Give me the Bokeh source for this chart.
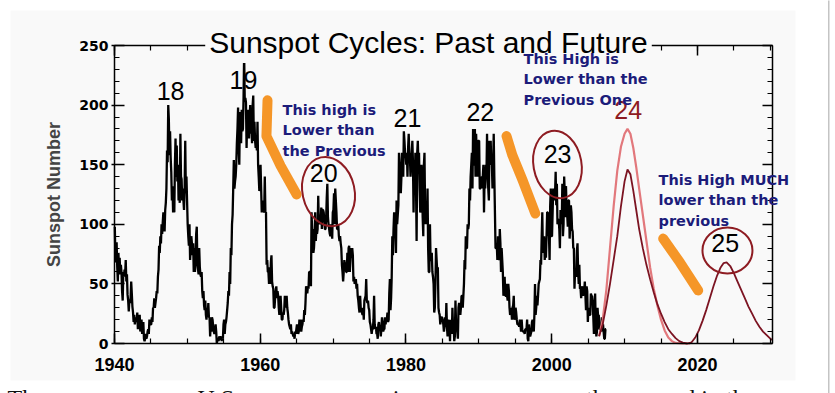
import numpy as np
from bokeh.plotting import figure
from bokeh.models import Range1d, LinearAxis, SingleIntervalTicker, Label, BoxAnnotation
from bokeh.embed import file_html
from bokeh.resources import INLINE

# ---------------- data ----------------
title_text = "Sunspot Cycles: Past and Future"
y_axis_title = "Sunspot Number"

ssn_start_year = 1940
ssn_monthly = [
    98, 72, 68, 85, 64, 52, 76, 60, 72, 58, 66, 60,          # 1940
    44, 36, 60, 56, 62, 58, 70, 52, 58, 41, 36, 27,          # 1941
    36, 34, 38, 52, 42, 31, 26, 18, 24, 16, 22, 20,          # 1942
    18, 26, 12, 20, 12, 24, 10, 14, 20, 8, 14, 18,           # 1943
    4, 2, 4, 8, 4, 6, 10, 12, 8, 20, 18, 16,                 # 1944
    16, 22, 18, 30, 30, 38, 30, 34, 38, 44, 42, 56,          # 1945
    62, 82, 76, 90, 84, 100, 92, 102, 110, 106, 94, 112,     # 1946
    118, 130, 162, 152, 200, 188, 158, 178, 156, 144, 120, 132,  # 1947
    110, 120, 110, 150, 172, 140, 166, 136, 150, 120, 130, 118,  # 1948
    176, 140, 138, 120, 130, 120, 112, 130, 170, 126, 140, 120,  # 1949
    100, 90, 82, 100, 70, 80, 90, 84, 74, 84, 60, 80,        # 1950
    60, 76, 92, 98, 66, 62, 58, 80, 64, 58, 56, 60,          # 1951
    44, 38, 44, 32, 28, 36, 24, 20, 30, 24, 34, 22,          # 1952
    22, 6, 16, 10, 22, 20, 14, 10, 8, 10, 16, 10,            # 1953
    0, 4, 4, 2, 6, 4, 4, 6, 2, 6, 4, 16,                     # 1954
    20, 8, 16, 18, 22, 28, 34, 44, 40, 60, 50, 80,           # 1955
    74, 100, 108, 130, 154, 130, 136, 140, 150, 168, 180, 198,   # 1956
    164, 150, 190, 194, 168, 196, 178, 180, 205, 244, 204, 206,  # 1957
    202, 164, 190, 196, 176, 172, 190, 200, 176, 186, 168, 200,  # 1958
    208, 170, 186, 170, 164, 170, 162, 186, 150, 140, 128, 130,  # 1959
    150, 130, 110, 120, 118, 112, 110, 140, 110, 110, 66, 70,    # 1960
    60, 60, 50, 64, 50, 68, 74, 52, 48, 46, 30, 30,          # 1961
    38, 44, 48, 38, 44, 40, 30, 24, 34, 40, 30, 20,          # 1962
    20, 26, 24, 28, 40, 36, 30, 40, 30, 26, 20, 16,          # 1963
    14, 12, 16, 8, 10, 8, 6, 8, 4, 10, 8, 12,                # 1964
    16, 14, 8, 10, 20, 18, 20, 10, 14, 16, 20, 18,           # 1965
    28, 24, 34, 48, 46, 42, 48, 46, 60, 60, 60, 48,          # 1966
    110, 94, 96, 76, 80, 90, 110, 86, 96, 92, 96, 124,       # 1967
    102, 100, 108, 100, 114, 96, 112, 112, 110, 104, 96, 96, # 1968
    104, 122, 134, 106, 100, 96, 92, 90, 100, 94, 88, 110,   # 1969
    112, 126, 100, 130, 120, 110, 96, 96, 100, 90, 86, 90,   # 1970
    84, 80, 66, 60, 52, 60, 70, 66, 68, 60, 60, 76,          # 1971
    60, 80, 82, 60, 70, 80, 72, 80, 74, 52, 56, 50,          # 1972
    52, 54, 46, 50, 40, 36, 30, 26, 40, 30, 28, 26,          # 1973
    24, 30, 20, 36, 38, 40, 54, 36, 34, 36, 30, 28,          # 1974
    18, 16, 12, 8, 12, 12, 20, 40, 16, 12, 14, 8,            # 1975
    8, 4, 16, 18, 12, 14, 6, 12, 22, 18, 10, 12,             # 1976
    12, 22, 16, 22, 20, 26, 18, 20, 42, 54, 28, 38,          # 1977
    56, 90, 74, 96, 110, 90, 100, 76, 120, 100, 108, 116,    # 1978
    160, 150, 146, 126, 140, 160, 152, 140, 178, 170, 160, 158,  # 1979
    150, 160, 140, 164, 176, 160, 156, 140, 150, 160, 170, 152,  # 1980
    110, 150, 136, 160, 134, 86, 160, 170, 150, 160, 130, 110,   # 1981
    112, 150, 140, 106, 90, 150, 160, 110, 100, 116, 100, 130,   # 1982
    80, 60, 60, 100, 70, 70, 76, 60, 56, 50, 26, 30,         # 1983
    50, 80, 70, 60, 64, 30, 26, 24, 16, 20, 22, 22,          # 1984
    20, 16, 10, 14, 22, 14, 34, 14, 6, 20, 16, 18,           # 1985
    2, 20, 16, 8, 30, 14, 16, 2, 6, 36, 16, 12,              # 1986
    10, 4, 30, 34, 30, 24, 30, 40, 40, 30, 40, 50,           # 1987
    70, 62, 90, 80, 80, 100, 96, 100, 130, 120, 140, 150,    # 1988
    160, 130, 180, 150, 150, 180, 140, 176, 160, 140, 170, 170,  # 1989
    170, 130, 130, 140, 130, 140, 140, 150, 110, 140, 130, 150,  # 1990
    140, 176, 140, 130, 120, 170, 150, 170, 150, 150, 130, 150,  # 1991
    176, 140, 110, 80, 80, 84, 70, 90, 76, 70, 96, 84,       # 1992
    60, 80, 70, 60, 40, 50, 56, 40, 40, 50, 40, 36,          # 1993
    50, 44, 30, 24, 26, 30, 20, 30, 32, 40, 20, 22,          # 1994
    30, 26, 20, 16, 16, 16, 14, 20, 16, 10, 20, 12,          # 1995
    10, 10, 10, 8, 12, 12, 12, 20, 4, 2, 16, 10,             # 1996
    6, 8, 10, 18, 20, 16, 10, 24, 50, 24, 30, 40,            # 1997
    32, 40, 50, 52, 54, 70, 66, 90, 110, 76, 84, 90,         # 1998
    70, 80, 72, 90, 110, 110, 94, 90, 70, 116, 130, 90,      # 1999
    90, 110, 130, 126, 120, 126, 144, 116, 134, 100, 104, 104,   # 2000
    96, 80, 112, 108, 100, 134, 90, 100, 140, 126, 106, 132,     # 2001
    114, 108, 98, 120, 120, 88, 100, 116, 110, 96, 94, 80,       # 2002
    80, 46, 62, 60, 56, 78, 84, 60, 50, 66, 46, 46,          # 2003
    38, 46, 48, 40, 42, 44, 52, 40, 28, 48, 44, 18,          # 2004
    30, 28, 24, 24, 42, 40, 40, 36, 22, 8, 18, 42,           # 2005
    16, 6, 10, 30, 22, 24, 12, 12, 14, 10, 22, 14,           # 2006
    16, 10, 4, 4, 12, 12,                                    # 2007
]

# prediction, high version of cycle 24 (light red)
pred_high_year = [2006.5, 2007.0, 2007.5, 2008.0, 2008.5, 2009.0, 2009.5, 2010.0, 2010.4,
                  2010.8, 2011.2, 2011.6, 2012.0, 2012.5, 2013.0, 2013.5, 2014.0, 2014.5,
                  2015.0, 2015.5, 2016.0, 2016.5, 2017.0, 2018.0, 2019.0]
pred_high_ssn = [6, 20, 45, 80, 115, 145, 165, 176, 180,
                 176, 164, 148, 130, 108, 86, 64, 46, 32,
                 20, 11, 5, 2, 0.5, 0, 0]

# prediction, low version of cycle 24 followed by cycle 25 (dark red)
pred_low_year = [2006.5, 2007.0, 2007.5, 2008.0, 2008.5, 2009.0, 2009.5, 2010.0, 2010.4,
                 2010.8, 2011.2, 2011.6, 2012.0, 2012.5, 2013.0, 2013.5, 2014.0, 2014.5,
                 2015.0, 2015.5, 2016.0, 2016.5, 2017.0, 2017.5, 2018.0, 2018.6, 2019.2,
                 2019.7, 2020.2, 2020.7, 2021.2, 2021.7, 2022.2, 2022.7, 2023.2, 2023.6,
                 2024.0, 2024.5, 2025.0, 2025.5, 2026.0, 2026.5, 2027.0, 2027.5, 2028.0,
                 2028.5, 2029.0, 2029.5, 2030.0, 2030.3]
pred_low_ssn = [6, 16, 32, 50, 70, 90, 115, 136, 146,
                142, 128, 112, 96, 80, 66, 54, 43, 33,
                25, 18, 12, 8, 4.5, 2, 0.8, 0, 1,
                5, 11, 19, 28, 38, 48, 57, 64, 67.5,
                68, 65, 59, 52, 45, 38, 31, 25, 19,
                14, 10, 7, 4, 3]

# cycle numbers
cycle_names = ["18", "19", "20", "21", "22", "23", "24", "25"]
cycle_year = [1947.7, 1957.7, 1968.7, 1980.2, 1990.2, 2000.8, 2010.5, 2023.8]
cycle_level = [212, 221, 143, 189, 194, 159, 196, 84]
cycle_color = ["black"] * 6 + ["#8e1c22", "black"]

# hand-drawn circles round cycles 20, 23, 25
circle_year = [1969.37, 2000.79, 2024.12]
circle_level = [127.5, 150.2, 78.0]

# hand-drawn orange strokes
stroke1_year = [1961.0, 1960.85, 1962.8, 1965.0]
stroke1_level = [204, 174, 149, 125]
stroke2_year = [1993.8, 1994.6, 1996.0, 1997.75]
stroke2_level = [174, 158, 137, 109]
stroke3_year = [2015.3, 2017.6, 2020.1]
stroke3_level = [88, 68, 44.5]

note_texts = ["This high is\nLower than\nthe Previous",
              "This High is\nLower than the\nPrevious One",
              "This High MUCH\nlower than the\nprevious"]

caption_text = "The summer ozone U.S. consumers use is more source near the sun and in the"

x_ticks_interval = 20
y_ticks_interval = 50

# ---------------- layout ----------------
X0, X1 = 1940.0, 2030.3
Y0, Y1 = 0.0, 250.0
W, H = 835, 393
FL, FR, FT, FB = 114, 772, 45, 343   # edges of the plotting box, in pixels


def px2x(px):
    return X0 + (px - FL) * (X1 - X0) / (FR - FL)


def py2y(py):
    return Y0 + (FB - py) * (Y1 - Y0) / (FB - FT)


BG = "#f9f9f9"
p = figure(width=W, height=H, output_backend="svg", toolbar_location=None,
           x_range=Range1d(px2x(0), px2x(W)), y_range=Range1d(py2y(H), py2y(0)),
           x_axis_location=None, y_axis_location=None,
           min_border=0, background_fill_color="white", border_fill_color="white",
           outline_line_color=None)
p.grid.visible = False

xb = LinearAxis(fixed_location=Y0, bounds=(X0, X1),
                ticker=SingleIntervalTicker(interval=x_ticks_interval, num_minor_ticks=4))
xt = LinearAxis(fixed_location=Y1, bounds=(X0, X1),
                ticker=SingleIntervalTicker(interval=x_ticks_interval, num_minor_ticks=4))
yl = LinearAxis(fixed_location=X0, bounds=(Y0, Y1),
                ticker=SingleIntervalTicker(interval=y_ticks_interval, num_minor_ticks=5))
yr = LinearAxis(fixed_location=X1, bounds=(Y0, Y1),
                ticker=SingleIntervalTicker(interval=y_ticks_interval, num_minor_ticks=5))
p.add_layout(xb, "below")
p.add_layout(xt, "above")
p.add_layout(yl, "left")
p.add_layout(yr, "right")

for ax in (xb, xt, yl, yr):
    ax.axis_line_color = "black"
    ax.axis_line_width = 1.5
    ax.major_tick_line_color = "black"
    ax.minor_tick_line_color = "black"
    ax.major_tick_line_width = 1.5
    ax.minor_tick_line_width = 1.2
    ax.major_tick_in = 10
    ax.major_tick_out = 0
    ax.minor_tick_in = 5
    ax.minor_tick_out = 0
    ax.major_label_text_font = "Liberation Sans"
    ax.major_label_text_font_style = "bold"
    ax.major_label_text_color = "black"

xb.major_label_text_font_size = "18px"
xb.major_label_standoff = 14
yl.major_label_text_font = "DejaVu Sans"
yl.major_label_text_font_size = "14px"
yl.major_tick_out = 3
yl.major_label_standoff = 3
yl.axis_label = y_axis_title
yl.axis_label_text_font = "Liberation Sans"
yl.axis_label_text_font_style = "bold"
yl.axis_label_text_font_size = "18px"
yl.axis_label_standoff = 12
for ax in (xt, yr):
    ax.major_label_text_font_size = "0px"
    ax.major_label_standoff = 0

# background of the picture and the page edge line
p.add_layout(BoxAnnotation(left=px2x(10), right=px2x(795), top=py2y(10), bottom=py2y(380),
                           fill_color=BG, fill_alpha=1, line_color=None, level="image"))
p.add_layout(BoxAnnotation(left=px2x(827.5), right=px2x(829), top=py2y(-5), bottom=py2y(400),
                           fill_color="#c4c4c4", fill_alpha=1, line_color=None, level="image"))

# ---------------- data marks ----------------
xm = ssn_start_year + (np.arange(len(ssn_monthly)) + 0.5) / 12.0
p.line(xm, ssn_monthly, line_color="black", line_width=2.3)

p.line(pred_high_year, pred_high_ssn, line_color="#e2787c", line_width=2.2)
p.line(pred_low_year, pred_low_ssn, line_color="#7c1422", line_width=1.8)

for sx, sy in ((stroke1_year, stroke1_level), (stroke2_year, stroke2_level),
               (stroke3_year, stroke3_level)):
    p.line(sx, sy, line_color="#f4901c", line_width=10, line_cap="round",
           line_join="round", line_alpha=0.95)

p.ellipse(circle_year, circle_level, width=[52, 48, 50], height=[70, 68, 46],
          width_units="screen", height_units="screen", angle=[0.22, 0.18, 0.0],
          fill_color=None, line_color="#8e1c22", line_width=2)

# title first, so that the notes are drawn over its background
p.add_layout(Label(x=px2x(428), y=py2y(42), text=title_text, text_align="center",
                   text_baseline="alphabetic", text_font="Liberation Sans",
                   text_font_size="30px", text_color="black",
                   background_fill_color=BG, background_fill_alpha=1, padding=4))

for name, cx, cy, col in zip(cycle_names, cycle_year, cycle_level, cycle_color):
    p.add_layout(Label(x=cx, y=cy, text=name, text_align="center", text_baseline="middle",
                       text_font="Liberation Sans", text_font_size="25px", text_color=col))

note_pos = [(282, 101), (523, 50), (658, 171)]
for t, (nx, ny) in zip(note_texts, note_pos):
    p.add_layout(Label(x=px2x(nx), y=py2y(ny), text=t, text_align="left", text_baseline="top",
                       text_font="DejaVu Sans", text_font_style="bold", text_font_size="14.5px",
                       text_color="#1c1c7a", text_line_height=1.3))

p.add_layout(Label(x=px2x(7), y=py2y(397), text=caption_text,
                   text_align="left", text_baseline="alphabetic", text_font="Liberation Serif",
                   text_font_size="24px", text_color="#111111"))

open("out.html", "w").write(file_html(p, INLINE))
